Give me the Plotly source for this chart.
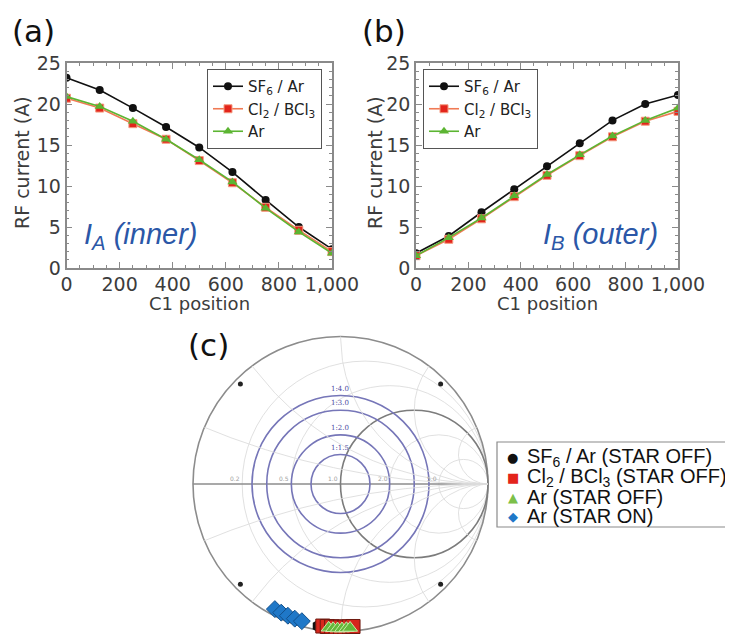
import numpy as np
import plotly.graph_objects as go

WIN_W, WIN_H = 733, 634
BODY_MARGIN = 8                      # default page margin around the plot div
W, H = WIN_W - BODY_MARGIN, WIN_H - BODY_MARGIN

# ---------------- data: panels (a) and (b) ----------------
c1_position = [0, 125, 250, 375, 500, 625, 750, 875, 1000]
ia_sf6 = [23.2, 21.7, 19.5, 17.2, 14.7, 11.7, 8.3, 5.0, 2.3]
ia_cl2 = [20.7, 19.5, 17.6, 15.7, 13.1, 10.4, 7.4, 4.6, 2.0]
ia_ar = [20.9, 19.7, 17.9, 15.7, 13.2, 10.5, 7.3, 4.4, 1.8]
ib_sf6 = [1.8, 3.9, 6.8, 9.6, 12.4, 15.2, 18.0, 20.0, 21.1]
ib_cl2 = [1.5, 3.5, 6.0, 8.7, 11.3, 13.7, 16.0, 17.9, 19.1]
ib_ar = [1.5, 3.7, 6.1, 8.8, 11.4, 13.8, 16.1, 18.0, 19.5]

x_tickvals = [0, 200, 400, 600, 800, 1000]
x_ticktext = ["0", "200", "400", "600", "800", "1,000"]
y_tickvals = [0, 5, 10, 15, 20, 25]

series_names = ["SF<sub>6</sub> / Ar", "Cl<sub>2</sub> / BCl<sub>3</sub>", "Ar"]

# ---------------- data: panel (c) Smith chart ----------------
vswr_values = [1.5, 2.0, 3.0, 4.0]
vswr_labels = ["1:1.5", "1:2.0", "1:3.0", "1:4.0"]
smith_r_grid = [0.2, 0.5, 2.0, 5.0]
smith_x_grid = [0.2, 0.5, 1.0, 2.0, 5.0]
smith_mark_deg = [45, 135, 225, 315]

# reflection coefficient (Gamma) of matching points
g_sf6_re = [-0.150, -0.118]
g_sf6_im = [-0.962, -0.966]
g_cl2_re = [-0.120, -0.090, -0.060, -0.030, 0.000, 0.030, 0.060, 0.085]
g_cl2_im = [-0.963, -0.966, -0.968, -0.970, -0.970, -0.970, -0.968, -0.966]
g_ar_off_re = [-0.080, -0.050, -0.020, 0.010, 0.040, 0.065]
g_ar_off_im = [-0.975, -0.978, -0.980, -0.980, -0.978, -0.976]
g_ar_on_re = [-0.445, -0.402, -0.357, -0.310, -0.262]
g_ar_on_im = [-0.848, -0.872, -0.893, -0.913, -0.930]

legend_c_labels = ["SF<sub>6</sub> / Ar (STAR OFF)", "Cl<sub>2</sub> / BCl<sub>3</sub> (STAR OFF)",
                   "Ar (STAR OFF)", "Ar (STAR ON)"]
legend_c_symbols = ["\u25CF", "\u25A0", "\u25B2", "\u25C6"]
legend_c_colors = ["#111111", "#e3241b", "#7cc04a", "#1f78c8"]


# ---------------- helpers (window pixels -> paper) ----------------
def px(p):
    return (p - BODY_MARGIN) / W


def py(p):
    return 1 - (p - BODY_MARGIN) / H


FONT = "DejaVu Sans"
ARIAL = "Liberation Sans, Arial"
TICK_COL = "#3c3c3c"
FRAME_COL = "#8a8a8a"

SF6_COL = "#111111"
CL2_LINE = "#f07a55"
CL2_MARK = "#e3241b"
AR_COL = "#5cb532"

fig = go.Figure()

panels = [("x", "y", "legend", ia_sf6, ia_cl2, ia_ar),
          ("x2", "y2", "legend2", ib_sf6, ib_cl2, ib_ar)]
for xa, ya, lg, s1, s2, s3 in panels:
    fig.add_trace(go.Scatter(x=c1_position, y=s1, name=series_names[0], mode="lines+markers",
                             line=dict(color=SF6_COL, width=1.6),
                             marker=dict(symbol="circle", size=8, color=SF6_COL),
                             xaxis=xa, yaxis=ya, legend=lg))
    fig.add_trace(go.Scatter(x=c1_position, y=s2, name=series_names[1], mode="lines+markers",
                             line=dict(color=CL2_LINE, width=1.6),
                             marker=dict(symbol="square", size=8, color=CL2_MARK,
                                         line=dict(color="#f49a80", width=1)),
                             xaxis=xa, yaxis=ya, legend=lg))
    fig.add_trace(go.Scatter(x=c1_position, y=s3, name=series_names[2], mode="lines+markers",
                             line=dict(color=AR_COL, width=1.6),
                             marker=dict(symbol="triangle-up", size=9, color=AR_COL),
                             xaxis=xa, yaxis=ya, legend=lg))

# ---------------- Smith chart grid ----------------
GRID_COL = "#dcdcdc"
r_samples = np.concatenate([[0.0], np.logspace(-3, 3, 300)])
for xv in smith_x_grid:
    for sgn in (1, -1):
        z = r_samples + 1j * sgn * xv
        g = (z - 1) / (z + 1)
        fig.add_trace(go.Scatter(x=g.real, y=g.imag, mode="lines",
                                 line=dict(color=GRID_COL, width=0.9),
                                 hoverinfo="skip", showlegend=False,
                                 xaxis="x3", yaxis="y3"))

# reference marks on the rim
mr = 0.96
fig.add_trace(go.Scatter(x=[mr * np.cos(np.radians(a)) for a in smith_mark_deg],
                         y=[mr * np.sin(np.radians(a)) for a in smith_mark_deg],
                         mode="markers", marker=dict(size=5, color="#222222"),
                         hoverinfo="skip", showlegend=False, xaxis="x3", yaxis="y3"))

# matching points
fig.add_trace(go.Scatter(x=g_sf6_re, y=g_sf6_im, mode="markers", name="SF6 / Ar (STAR OFF)",
                         marker=dict(symbol="hexagon", size=13, color="#111111"),
                         cliponaxis=False, showlegend=False, xaxis="x3", yaxis="y3"))
fig.add_trace(go.Scatter(x=g_cl2_re, y=g_cl2_im, mode="markers", name="Cl2 / BCl3 (STAR OFF)",
                         marker=dict(symbol="square", size=14, color="#d8261c",
                                     line=dict(color="#6e1a10", width=1)),
                         cliponaxis=False, showlegend=False, xaxis="x3", yaxis="y3"))
fig.add_trace(go.Scatter(x=g_ar_off_re, y=g_ar_off_im, mode="markers", name="Ar (STAR OFF)",
                         marker=dict(symbol="triangle-up", size=13, color="#63b93a",
                                     line=dict(color="#c9e8a8", width=1)),
                         cliponaxis=False, showlegend=False, xaxis="x3", yaxis="y3"))
fig.add_trace(go.Scatter(x=g_ar_on_re, y=g_ar_on_im, mode="markers", name="Ar (STAR ON)",
                         marker=dict(symbol="diamond", size=13, color="#1f78c8",
                                     line=dict(color="#12508c", width=1)),
                         cliponaxis=False, showlegend=False, xaxis="x3", yaxis="y3"))

shapes = []
for rv in smith_r_grid:
    shapes.append(dict(type="circle", xref="x3", yref="y3",
                       x0=(rv - 1) / (rv + 1), x1=1, y0=-1 / (rv + 1), y1=1 / (rv + 1),
                       line=dict(color=GRID_COL, width=0.9), layer="below"))
# outer rim, real axis, r = 1 circle
shapes.append(dict(type="circle", xref="x3", yref="y3", x0=-1, x1=1, y0=-1, y1=1,
                   line=dict(color="#8c8c8c", width=1.6), layer="below"))
shapes.append(dict(type="line", xref="x3", yref="y3", x0=-1, x1=1, y0=0, y1=0,
                   line=dict(color="#8c8c8c", width=1.6), layer="below"))
shapes.append(dict(type="circle", xref="x3", yref="y3", x0=0, x1=1, y0=-0.5, y1=0.5,
                   line=dict(color="#7c7c7c", width=1.6), layer="below"))
# VSWR circles
for s in vswr_values:
    rho = (s - 1) / (s + 1)
    shapes.append(dict(type="circle", xref="x3", yref="y3", x0=-rho, x1=rho, y0=-rho, y1=rho,
                       line=dict(color="#7676b8", width=1.6), layer="below"))
# legend box for (c)
shapes.append(dict(type="rect", xref="paper", yref="paper",
                   x0=px(497), x1=px(745), y0=py(527), y1=py(442),
                   line=dict(color="#8a8a8a", width=1.2)))

annotations = []
# panel labels
for txt, xc, yc in [("(a)", 33, 31), ("(b)", 384, 31), ("(c)", 208, 345)]:
    annotations.append(dict(text=txt, x=px(xc), y=py(yc), xref="paper", yref="paper",
                            showarrow=False, xanchor="center", yanchor="middle",
                            font=dict(family=FONT, size=31, color="#111111")))
# axis titles
for xc in (199, 547):
    annotations.append(dict(text="C1 position", x=px(xc), y=py(304), xref="paper", yref="paper",
                            showarrow=False, xanchor="center", yanchor="middle",
                            font=dict(family=FONT, size=18, color="#3c3c3c")))
for xc in (22, 375):
    annotations.append(dict(text="RF current (A)", x=px(xc), y=py(163), xref="paper", yref="paper",
                            showarrow=False, xanchor="center", yanchor="middle", textangle=-90,
                            font=dict(family=FONT, size=19, color="#3c3c3c")))
# in-plot labels
annotations.append(dict(text="<i>I<sub>A</sub> (inner)</i>", x=px(82), y=py(236),
                        xref="paper", yref="paper", showarrow=False, xanchor="left", yanchor="middle",
                        font=dict(family=ARIAL, size=29, color="#2b57a7")))
annotations.append(dict(text="<i>I<sub>B</sub> (outer)</i>", x=px(541), y=py(236),
                        xref="paper", yref="paper", showarrow=False, xanchor="left", yanchor="middle",
                        font=dict(family=ARIAL, size=29, color="#2b57a7")))
# VSWR labels
for s, lab in zip(vswr_values, vswr_labels):
    rho = (s - 1) / (s + 1)
    annotations.append(dict(text=lab, x=0, y=rho, xref="x3", yref="y3", showarrow=False,
                            xanchor="center", yanchor="bottom", yshift=1,
                            font=dict(family="DejaVu Serif", size=7, color="#4b4ba3")))
# real-axis tick labels of the Smith chart
for rv in [0.2, 0.5, 1.0, 2.0, 5.0]:
    annotations.append(dict(text=f"{rv:.1f}", x=(rv - 1) / (rv + 1), y=0, xref="x3", yref="y3",
                            showarrow=False, xanchor="right", yanchor="bottom",
                            font=dict(family=FONT, size=6, color="#a0a0a0")))
# legend (c)
rows_y = [457, 477, 497, 516]
for sym, col, lab, yr in zip(legend_c_symbols, legend_c_colors, legend_c_labels, rows_y):
    annotations.append(dict(text=sym, x=px(513), y=py(yr), xref="paper", yref="paper",
                            showarrow=False, xanchor="center", yanchor="middle",
                            font=dict(family=FONT, size=13, color=col)))
    annotations.append(dict(text=lab, x=px(525), y=py(yr), xref="paper", yref="paper",
                            showarrow=False, xanchor="left", yanchor="middle",
                            font=dict(family=ARIAL, size=20, color="#111111")))


# ---------------- axes ----------------
def xaxis_cfg(x0, x1):
    return dict(domain=[px(x0), px(x1)], range=[0, 1000], tickvals=x_tickvals, ticktext=x_ticktext,
                ticks="inside", ticklen=6, tickwidth=1, tickcolor=FRAME_COL,
                minor=dict(dtick=50, ticks="inside", ticklen=3, tickcolor=FRAME_COL),
                showline=True, linecolor=FRAME_COL, linewidth=1.5, mirror="allticks",
                showgrid=False, zeroline=False, ticklabelstandoff=-2,
                tickfont=dict(family=FONT, size=19, color=TICK_COL))


def yaxis_cfg():
    return dict(domain=[py(268), py(63)], range=[0, 25], tickvals=y_tickvals,
                ticks="inside", ticklen=6, tickwidth=1, tickcolor=FRAME_COL,
                minor=dict(dtick=1, ticks="inside", ticklen=3, tickcolor=FRAME_COL),
                showline=True, linecolor=FRAME_COL, linewidth=1.5, mirror="allticks",
                showgrid=False, zeroline=False,
                tickfont=dict(family=FONT, size=19, color=TICK_COL))


# Smith chart placement (window pixels)
SCX, SCY, SR = 340.5, 484.0, 147.5
XPAD = 1.05
x3_dom = [px(SCX - SR * XPAD), px(SCX + SR * XPAD)]
y3_dom = [0, py(SCY - SR * XPAD)]
y3_range = [-(WIN_H - SCY) / SR, XPAD]

legend_common = dict(bgcolor="white", bordercolor="#555555", borderwidth=1,
                     font=dict(family=FONT, size=15, color="#222222"),
                     tracegroupgap=0, itemwidth=30)

fig.update_layout(
    width=W, height=H,
    margin=dict(l=0, r=0, t=0, b=0, autoexpand=False),
    paper_bgcolor="white", plot_bgcolor="white",
    showlegend=True,
    xaxis=dict(**xaxis_cfg(66.5, 332), anchor="y"),
    yaxis=dict(**yaxis_cfg(), anchor="x"),
    xaxis2=dict(**xaxis_cfg(416, 678), anchor="y2"),
    yaxis2=dict(**yaxis_cfg(), anchor="x2"),
    xaxis3=dict(domain=x3_dom, range=[-XPAD, XPAD], visible=False, anchor="y3"),
    yaxis3=dict(domain=y3_dom, range=y3_range, visible=False, anchor="x3"),
    legend=dict(**legend_common, x=px(322), xanchor="right", y=py(69), yanchor="top"),
    legend2=dict(**legend_common, x=px(423), xanchor="left", y=py(69), yanchor="top"),
    shapes=shapes,
    annotations=annotations,
)

fig.write_html("out.html")
